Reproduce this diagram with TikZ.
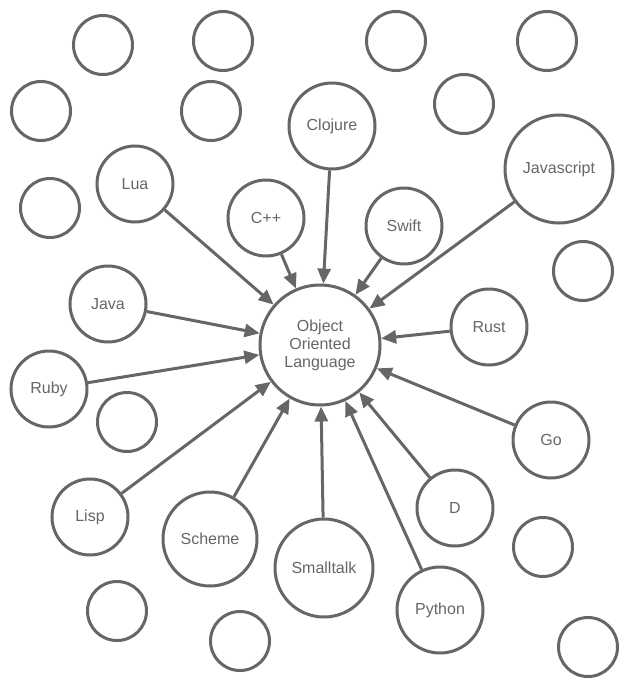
\documentclass[tikz,border=0pt]{standalone}
\usepackage{fontspec}
\setmainfont{Liberation Sans}
\usetikzlibrary{arrows.meta}
\definecolor{ink}{HTML}{666666}

\begin{document}
\begin{tikzpicture}[x=1pt, y=-1pt,
    every node/.style={circle, draw=ink, line width=3pt, inner sep=0pt, text=ink, font=\fontsize{16}{18}\selectfont},
    blank/.style={minimum size=59pt},
    lang/.style={minimum size=76pt},
    link/.style={draw=ink, line width=3pt, -{Triangle[length=15pt, width=13pt]}}]
  \useasboundingbox (0,0) rectangle (629,688);
  % central language
  \node[minimum size=120pt, align=center] (oop) at (320,345) {Object\\Oriented\\Language};
  % languages pointing in
  \node[lang] (lua) at (135,184) {Lua};
  \node[lang] (cpp) at (266,218) {C++};
  \node[minimum size=86pt] (clojure) at (332,126) {Clojure};
  \node[lang] (swift) at (404,226) {Swift};
  \node[minimum size=108pt] (javascript) at (559,169) {Javascript};
  \node[lang] (java) at (108,304) {Java};
  \node[lang] (ruby) at (49,389) {Ruby};
  \node[lang] (rust) at (489,327) {Rust};
  \node[lang] (go) at (551,440) {Go};
  \node[lang] (lisp) at (90,517) {Lisp};
  \node[minimum size=94pt] (scheme) at (210,539) {Scheme};
  \node[minimum size=98pt] (smalltalk) at (324,568) {Smalltalk};
  \node[lang] (d) at (455,508) {D};
  \node[minimum size=86pt] (python) at (440,610) {Python};
  % empty circles
  \node[blank] (e1) at (103,45) {};
  \node[blank] (e2) at (223,41) {};
  \node[blank] (e3) at (396,41) {};
  \node[blank] (e4) at (547,41) {};
  \node[blank] (e5) at (41,111) {};
  \node[blank] (e6) at (211,111) {};
  \node[blank] (e7) at (464,104) {};
  \node[blank] (e8) at (50,208) {};
  \node[blank] (e9) at (583,271) {};
  \node[blank] (e10) at (127,422) {};
  \node[blank] (e11) at (543,547) {};
  \node[blank] (e12) at (117,611) {};
  \node[blank] (e13) at (240,641) {};
  \node[blank] (e14) at (588,647) {};
  % arrows
  \draw[link] (lua) -- (oop);
  \draw[link] (cpp) -- (oop);
  \draw[link] (clojure) -- (oop);
  \draw[link] (swift) -- (oop);
  \draw[link] (javascript) -- (oop);
  \draw[link] (java) -- (oop);
  \draw[link] (ruby) -- (oop);
  \draw[link] (rust) -- (oop);
  \draw[link] (go) -- (oop);
  \draw[link] (lisp) -- (oop);
  \draw[link] (scheme) -- (oop);
  \draw[link] (smalltalk) -- (oop);
  \draw[link] (d) -- (oop);
  \draw[link] (python) -- (oop);
\end{tikzpicture}
\end{document}
